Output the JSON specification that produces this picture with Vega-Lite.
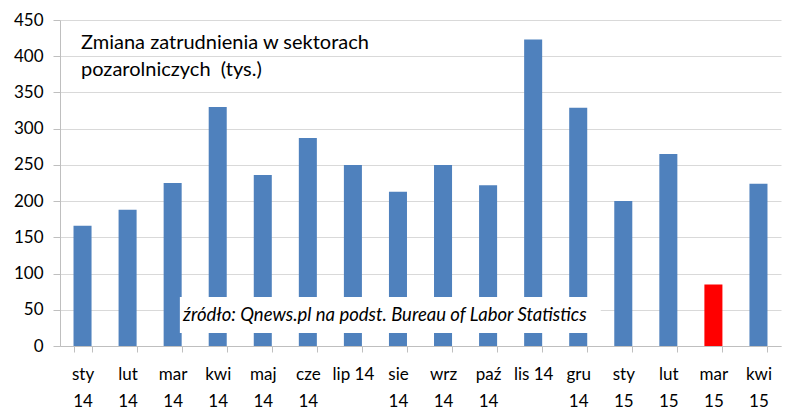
{
  "$schema": "https://vega.github.io/schema/vega-lite/v6.json",
  "width": 721,
  "height": 326,
  "autosize": {"type": "none"},
  "padding": {"left": 60, "top": 20, "right": 19, "bottom": 73},
  "background": "white",
  "config": {
    "view": {"stroke": null},
    "font": "Lato",
    "axis": {"labelFont": "Lato", "labelColor": "#000000", "labelFontSize": 17}
  },
  "datasets": {
    "bars": [
      {"miesiac": "sty 14", "zmiana": 166, "kolor": "blue"},
      {"miesiac": "lut 14", "zmiana": 188, "kolor": "blue"},
      {"miesiac": "mar 14", "zmiana": 225, "kolor": "blue"},
      {"miesiac": "kwi 14", "zmiana": 330, "kolor": "blue"},
      {"miesiac": "maj 14", "zmiana": 236, "kolor": "blue"},
      {"miesiac": "cze 14", "zmiana": 287, "kolor": "blue"},
      {"miesiac": "lip 14", "zmiana": 250, "kolor": "blue"},
      {"miesiac": "sie 14", "zmiana": 213, "kolor": "blue"},
      {"miesiac": "wrz 14", "zmiana": 250, "kolor": "blue"},
      {"miesiac": "paź 14", "zmiana": 222, "kolor": "blue"},
      {"miesiac": "lis 14", "zmiana": 423, "kolor": "blue"},
      {"miesiac": "gru 14", "zmiana": 329, "kolor": "blue"},
      {"miesiac": "sty 15", "zmiana": 200, "kolor": "blue"},
      {"miesiac": "lut 15", "zmiana": 265, "kolor": "blue"},
      {"miesiac": "mar 15", "zmiana": 85, "kolor": "red"},
      {"miesiac": "kwi 15", "zmiana": 224, "kolor": "blue"}
    ],
    "box": [{"x1": 2.66, "x2": 12, "y1": 18, "y2": 67.5}],
    "source": [{"x": 7.21, "y": 42.5, "text": "źródło: Qnews.pl na podst. Bureau of Labor Statistics"}],
    "title": [
      {"x": 0.466, "y": 418, "text": "Zmiana zatrudnienia w sektorach"},
      {"x": 0.466, "y": 381, "text": "pozarolniczych\u00a0 (tys.)"}
    ]
  },
  "layer": [
    {
      "data": {"name": "bars"},
      "mark": {"type": "bar"},
      "encoding": {
        "x": {
          "field": "miesiac",
          "type": "nominal",
          "sort": null,
          "scale": {"paddingInner": 0.6, "paddingOuter": 0.3},
          "axis": {
            "title": null,
            "labelAngle": 0,
            "domainColor": "#BFBFBF",
            "tickColor": "#BFBFBF",
            "tickBand": "extent",
            "tickSize": 6,
            "labelPadding": 14,
            "labelLineHeight": 27.5,
            "labelBaseline": "top",
            "labelOverlap": false,
            "labelBound": false,
            "labelExpr": "datum.label == 'lip 14' || datum.label == 'lis 14' ? datum.label : split(datum.label, ' ')"
          }
        },
        "y": {
          "field": "zmiana",
          "type": "quantitative",
          "scale": {"domain": [0, 450], "nice": false},
          "axis": {
            "title": null,
            "values": [0, 50, 100, 150, 200, 250, 300, 350, 400, 450],
            "labelOverlap": false,
            "labelBound": false,
            "domainColor": "#BFBFBF",
            "tickColor": "#BFBFBF",
            "tickSize": 7,
            "labelPadding": 10,
            "gridColor": "#D9D9D9",
            "gridWidth": 1
          }
        },
        "color": {
          "field": "kolor",
          "type": "nominal",
          "scale": {"domain": ["blue", "red"], "range": ["#4F81BD", "#FF0000"]},
          "legend": null
        }
      }
    },
    {
      "data": {"name": "box"},
      "mark": {"type": "rect", "color": "white"},
      "encoding": {
        "x": {"field": "x1", "type": "quantitative", "scale": {"domain": [0, 16], "nice": false, "zero": false}, "axis": null},
        "x2": {"field": "x2"},
        "y": {
          "field": "y1",
          "type": "quantitative",
          "axis": {
            "title": null,
            "values": [0, 50, 100, 150, 200, 250, 300, 350, 400, 450],
            "labelOverlap": false,
            "labelBound": false,
            "domainColor": "#BFBFBF",
            "tickColor": "#BFBFBF",
            "tickSize": 7,
            "labelPadding": 10,
            "gridColor": "#D9D9D9",
            "gridWidth": 1
          }
        },
        "y2": {"field": "y2"}
      }
    },
    {
      "data": {"name": "source"},
      "mark": {"type": "text", "fontStyle": "italic", "fontSize": 18.5, "align": "center", "baseline": "middle", "color": "#000000", "font": "Lato"},
      "encoding": {
        "x": {"field": "x", "type": "quantitative", "scale": {"domain": [0, 16], "nice": false, "zero": false}, "axis": null},
        "y": {
          "field": "y",
          "type": "quantitative",
          "axis": {
            "title": null,
            "values": [0, 50, 100, 150, 200, 250, 300, 350, 400, 450],
            "labelOverlap": false,
            "labelBound": false,
            "domainColor": "#BFBFBF",
            "tickColor": "#BFBFBF",
            "tickSize": 7,
            "labelPadding": 10,
            "gridColor": "#D9D9D9",
            "gridWidth": 1
          }
        },
        "text": {"field": "text"}
      }
    },
    {
      "data": {"name": "title"},
      "mark": {"type": "text", "fontSize": 20, "align": "left", "baseline": "middle", "color": "#000000", "font": "Lato"},
      "encoding": {
        "x": {"field": "x", "type": "quantitative", "scale": {"domain": [0, 16], "nice": false, "zero": false}, "axis": null},
        "y": {
          "field": "y",
          "type": "quantitative",
          "axis": {
            "title": null,
            "values": [0, 50, 100, 150, 200, 250, 300, 350, 400, 450],
            "labelOverlap": false,
            "labelBound": false,
            "domainColor": "#BFBFBF",
            "tickColor": "#BFBFBF",
            "tickSize": 7,
            "labelPadding": 10,
            "gridColor": "#D9D9D9",
            "gridWidth": 1
          }
        },
        "text": {"field": "text"}
      }
    }
  ],
  "resolve": {"scale": {"x": "independent"}}
}
